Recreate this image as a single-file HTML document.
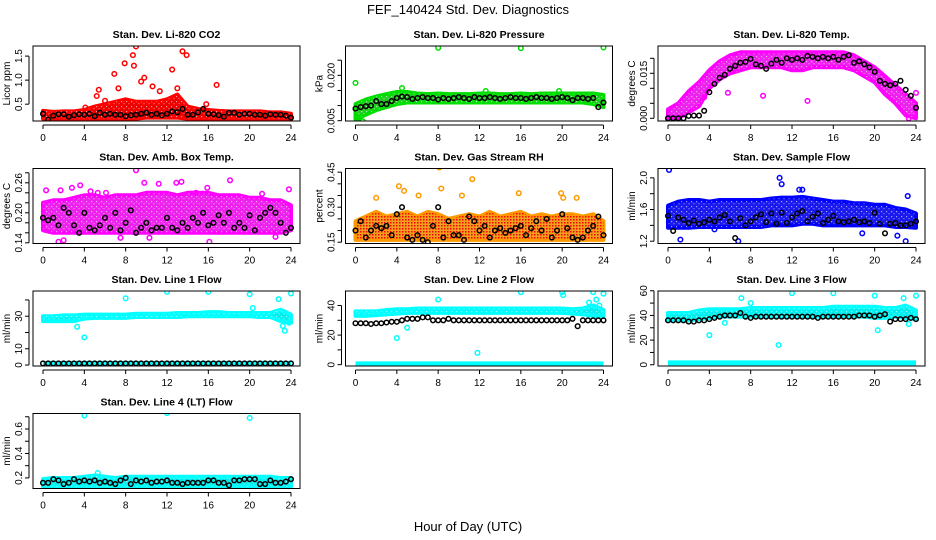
<!DOCTYPE html>
<html><head><meta charset="utf-8"><style>
body{margin:0;background:#fff;}
svg{display:block;font-family:"Liberation Sans",sans-serif;}
</style></head><body>
<svg id="chart" width="936" height="540" viewBox="0 0 936 540" xmlns="http://www.w3.org/2000/svg">
<defs>
<pattern id="speckle" width="5" height="5" patternUnits="userSpaceOnUse"><rect x="1" y="1" width="1.2" height="1.2" fill="#fff"/><rect x="3.5" y="3.2" width="1" height="1" fill="#fff"/></pattern>
</defs>
<text x="468" y="14" text-anchor="middle" font-size="13">FEF_140424  Std. Dev. Diagnostics</text>
<text x="468" y="531" text-anchor="middle" font-size="13">Hour of Day (UTC)</text>
</svg>
<script>
const hoursHalf=[0,0.5,1,1.5,2,2.5,3,3.5,4,4.5,5,5.5,6,6.5,7,7.5,8,8.5,9,9.5,10,10.5,11,11.5,12,12.5,13,13.5,14,14.5,15,15.5,16,16.5,17,17.5,18,18.5,19,19.5,20,20.5,21,21.5,22,22.5,23,23.5,24];
const hoursFull=[0,1,2,3,4,5,6,7,8,9,10,11,12,13,14,15,16,17,18,19,20,21,22,23,24];
const xTicks=[0,4,8,12,16,20,24];

// CO2
const co2Black=[0.3,0.18,0.26,0.29,0.29,0.24,0.27,0.29,0.28,0.3,0.25,0.32,0.28,0.3,0.28,0.28,0.25,0.27,0.28,0.3,0.32,0.28,0.3,0.27,0.3,0.35,0.33,0.4,0.28,0.28,0.33,0.4,0.3,0.29,0.27,0.24,0.32,0.32,0.28,0.3,0.3,0.28,0.28,0.26,0.29,0.28,0.28,0.26,0.22];
const co2Lo=[0.2,0.2,0.2,0.2,0.2,0.2,0.2,0.2,0.2,0.2,0.22,0.22,0.22,0.22,0.2,0.2,0.2,0.2,0.2,0.2,0.2,0.2,0.2,0.19,0.18];
const co2Hi=[0.36,0.34,0.35,0.35,0.38,0.45,0.5,0.55,0.6,0.55,0.55,0.55,0.6,0.7,0.45,0.4,0.38,0.36,0.35,0.35,0.35,0.35,0.33,0.33,0.3];
const co2OutX=[5.2,5.4,6.9,7.3,7.9,8.7,8.8,9.0,9.5,9.8,10.6,11.3,12.5,13.0,13.5,13.9,16.8,15.8,4.1,6.0];
const co2OutY=[0.67,0.8,1.13,0.83,1.35,1.52,1.3,1.7,0.97,1.05,0.87,0.77,1.22,0.83,1.6,1.52,0.9,0.5,0.43,0.57];
// Pressure
const prBlack=[0.009,0.0095,0.0098,0.01,0.0115,0.0105,0.0105,0.0115,0.0125,0.013,0.0128,0.0122,0.0125,0.0128,0.0125,0.0125,0.012,0.0125,0.0122,0.0125,0.0128,0.0125,0.0122,0.0128,0.0125,0.0125,0.0128,0.0125,0.0122,0.0125,0.0128,0.0125,0.0125,0.0122,0.0125,0.0128,0.0125,0.0125,0.0122,0.0125,0.0128,0.0125,0.0118,0.0125,0.0125,0.0122,0.0125,0.0095,0.011];
const prLo=[0.0055,0.007,0.0085,0.0095,0.0105,0.011,0.011,0.011,0.011,0.011,0.011,0.011,0.011,0.011,0.011,0.011,0.011,0.011,0.011,0.011,0.011,0.011,0.011,0.0105,0.0095];
const prHi=[0.0105,0.012,0.013,0.0138,0.0145,0.0145,0.014,0.0138,0.014,0.0138,0.0138,0.0138,0.014,0.014,0.0138,0.0138,0.014,0.0138,0.014,0.014,0.014,0.014,0.014,0.014,0.0135];
const prOutX=[0,0.3,0.7,8,16,24,4.5,12.6,19.7];
const prOutY=[0.0175,0.006,0.0048,0.0291,0.029,0.0292,0.0158,0.0148,0.0148];
// Li temp
const ltBlack=[0,0,0,0,0.0008,0.0009,0.0009,0.0025,0.0087,0.0115,0.0135,0.0145,0.0165,0.0175,0.0185,0.0188,0.0198,0.018,0.0175,0.0165,0.0182,0.0195,0.0185,0.02,0.0195,0.02,0.0195,0.0208,0.0205,0.02,0.0205,0.02,0.0205,0.0195,0.0205,0.021,0.0185,0.019,0.018,0.017,0.0155,0.0125,0.0115,0.011,0.0115,0.0125,0.0095,0.0075,0.0035];
const ltLo=[0,0,0.002,0.004,0.01,0.013,0.015,0.016,0.017,0.017,0.017,0.017,0.016,0.016,0.017,0.017,0.017,0.017,0.016,0.014,0.012,0.008,0.005,0.001,0];
const ltHi=[0.003,0.005,0.009,0.012,0.016,0.019,0.021,0.022,0.022,0.022,0.022,0.022,0.022,0.022,0.022,0.022,0.022,0.022,0.021,0.019,0.017,0.014,0.011,0.008,0.005];
const ltOutX=[3.5,9.2,13.5,5.8,24,23.3];
const ltOutY=[0.007,0.0075,0.0058,0.0085,0.0085,0];
// Box temp
const btBlack=[0.19,0.185,0.19,0.175,0.21,0.2,0.175,0.16,0.2,0.17,0.165,0.175,0.19,0.17,0.2,0.165,0.18,0.205,0.16,0.17,0.18,0.165,0.17,0.17,0.19,0.17,0.165,0.18,0.17,0.19,0.18,0.2,0.175,0.18,0.195,0.18,0.2,0.17,0.18,0.17,0.195,0.165,0.19,0.2,0.21,0.2,0.18,0.16,0.17];
const btLo=[0.165,0.16,0.16,0.16,0.16,0.16,0.16,0.16,0.16,0.16,0.16,0.16,0.16,0.16,0.16,0.16,0.16,0.16,0.16,0.16,0.16,0.16,0.16,0.16,0.165];
const btHi=[0.22,0.225,0.225,0.23,0.235,0.235,0.23,0.235,0.235,0.235,0.24,0.24,0.24,0.235,0.24,0.24,0.24,0.235,0.235,0.235,0.23,0.23,0.225,0.225,0.215];
const btOutX=[0.3,1.7,2.8,3.6,4.6,5.3,6.1,9.0,9.8,11.2,12.9,13.4,14.8,15.9,18.1,21.2,23.8,1.5,2.0,16.1,10.3,7.5,22.5];
const btOutY=[0.245,0.245,0.25,0.255,0.243,0.24,0.24,0.285,0.26,0.258,0.26,0.262,0.24,0.25,0.265,0.238,0.247,0.142,0.145,0.142,0.15,0.15,0.152];
// RH
const rhBlack=[0.2,0.24,0.17,0.2,0.22,0.21,0.22,0.18,0.27,0.3,0.17,0.16,0.18,0.16,0.15,0.22,0.3,0.17,0.24,0.18,0.18,0.16,0.26,0.24,0.2,0.22,0.17,0.2,0.21,0.19,0.2,0.21,0.22,0.18,0.21,0.24,0.2,0.25,0.17,0.2,0.27,0.21,0.17,0.16,0.17,0.2,0.22,0.26,0.18];
const rhLo=[0.16,0.16,0.16,0.16,0.16,0.16,0.16,0.16,0.16,0.16,0.16,0.16,0.16,0.16,0.16,0.16,0.16,0.16,0.16,0.16,0.16,0.16,0.16,0.16,0.16];
const rhHi=[0.24,0.26,0.28,0.26,0.27,0.28,0.26,0.28,0.27,0.25,0.26,0.27,0.26,0.28,0.26,0.27,0.28,0.26,0.27,0.26,0.27,0.27,0.26,0.27,0.24];
const rhOutX=[2,4.2,4.7,6.1,8.1,8.3,10.3,11.3,15.8,19.9,20.1,21.4];
const rhOutY=[0.34,0.39,0.37,0.35,0.47,0.38,0.35,0.42,0.36,0.36,0.34,0.34];
// Sample flow
const sfBlack=[1.52,1.33,1.5,1.47,1.43,1.46,1.42,1.44,1.47,1.45,1.5,1.53,1.45,1.24,1.49,1.4,1.45,1.5,1.54,1.44,1.55,1.42,1.56,1.43,1.5,1.55,1.58,1.45,1.51,1.55,1.43,1.47,1.52,1.45,1.44,1.45,1.47,1.44,1.45,1.43,1.56,1.42,1.3,1.42,1.43,1.4,1.4,1.42,1.45];
const sfLo=[1.37,1.37,1.37,1.38,1.38,1.38,1.38,1.38,1.38,1.38,1.4,1.4,1.4,1.42,1.42,1.4,1.4,1.4,1.4,1.4,1.4,1.4,1.38,1.38,1.37];
const sfHi=[1.65,1.7,1.72,1.72,1.7,1.72,1.72,1.72,1.72,1.72,1.74,1.75,1.75,1.76,1.74,1.72,1.7,1.7,1.68,1.68,1.66,1.66,1.62,1.6,1.55];
const sfOutX=[0.1,1.2,4.5,6.8,10.8,11.0,12.7,13.0,18.8,22.2,23.2,23.0];
const sfOutY=[2.1,1.22,1.35,1.2,2.0,1.92,1.85,1.85,1.3,1.27,1.77,1.2];
// Line 1
const l1Black=[1,1,1,1,1,1,1,1,1,1,1,1,1,1,1,1,1,1,1,1,1,1,1,1,1,1,1,1,1,1,1,1,1,1,1,1,1,1,1,1,1,1,1,1,1,1,1,1,1];
const l1Lo=[27,27,27,27,28.5,29,29,29,29,29.5,29.5,29.5,29.5,29.5,30,30,30,30,30,30,30,29.5,29.5,27,26];
const l1Hi=[30,30,30.5,30.5,31,31,31,31,31,31.5,31.5,31.5,31.5,32,32,32,32.5,32.5,32,32,32,32,32,34,31];
const l1OutX=[3.3,4,8,12,16,20,20.3,22.8,23.2,23.4,23.8,24];
const l1OutY=[23.5,17,41,45,45,43.5,35,40.5,24,21,26,44];
const l1LowX=[0,24];
const l1LowY=[1,1];
// Line 2
const l2Black=[28,28,28,27.5,28,28,28.5,29,29,30,31,31,31,32,32,30,30,30,31,30,30,30,30,30,30,30,30,30,30,30,30,30,30,30,30,30,30,30,30,30,30,30,31,26,30,30,30,30,30];
const l2Lo=[33,33,33.5,34,34.5,35,35,35,35,35,35,35,35,35,35,35,35,35,35,35,35,34.5,34,33,33];
const l2Hi=[36,36,36,37,37.5,37.5,38,38,38,38,38,38,38,38,38,38,38,38,38,38,38,37.5,38,40,37];
const l2OutX=[4,5,8,11.8,16,20,20.1,22.6,23,23.3,23.6,24];
const l2OutY=[18,25,44,8,49,49,47,42,49,44,40,48];
const l2LowX=[0,24];
const l2LowY=[0.5,0.5];
// Line 3
const l3Black=[36,36,36,36,35,35,36,36,37,38,39,40,40,40,42,39,38,39,39,39,39,39,39,39,39,39,39,39,39,38,39,39,39,39,39,39,39,40,40,40,39,40,41,35,37,37,37,38,37];
const l3Lo=[36,36,36,37,38,39,39,39,39,39,39,39,39,39,39,39,39,39,39,39,38,38,39,38,37];
const l3Hi=[42,42,42,44,45,45,45,45,46,46,46,46,46,46,46,46,47,47,47,47,47,46,46,48,44];
const l3OutX=[4,5.5,7.1,8,10.7,12,16,20,20.3,22.8,23.3,24];
const l3OutY=[24,34,54,50,16,58,58,56,28,54,33,56];
const l3LowX=[0,24];
const l3LowY=[1.5,1.5];
// Line 4
const l4Black=[0.16,0.16,0.19,0.18,0.15,0.16,0.19,0.17,0.18,0.17,0.18,0.16,0.17,0.16,0.15,0.18,0.2,0.15,0.18,0.17,0.18,0.16,0.17,0.17,0.18,0.16,0.16,0.15,0.16,0.16,0.16,0.16,0.18,0.18,0.16,0.16,0.14,0.18,0.18,0.19,0.19,0.19,0.15,0.15,0.18,0.16,0.16,0.17,0.19];
const l4Lo=[0.13,0.13,0.13,0.13,0.13,0.13,0.13,0.13,0.13,0.13,0.13,0.13,0.13,0.13,0.13,0.13,0.13,0.13,0.13,0.13,0.13,0.13,0.13,0.13,0.13];
const l4Hi=[0.19,0.2,0.2,0.2,0.21,0.22,0.21,0.2,0.21,0.21,0.21,0.21,0.21,0.21,0.21,0.21,0.21,0.21,0.21,0.21,0.21,0.21,0.21,0.2,0.2];
const l4OutX=[4,12,20,5.3];
const l4OutY=[0.71,0.73,0.69,0.24];

const panels=[
 {name:'co2',title:'Stan. Dev. Li-820 CO2',ylab:'Licor ppm',col:0,row:0,dom:[0.15,1.71],ticks:[0.5,1.0,1.5],labels:['0.5','1.0','1.5'],color:'#ff0000',fill:'#ee0000',black:co2Black,lo:co2Lo,hi:co2Hi,ox:co2OutX,oy:co2OutY},
 {name:'pressure',title:'Stan. Dev. Li-820 Pressure',ylab:'kPa',col:1,row:0,dom:[0.0049,0.0297],ticks:[0.005,0.01,0.015,0.02,0.025],labels:['0.005','','','0.020',''],color:'#00dd00',fill:'#22cc22',black:prBlack,lo:prLo,hi:prHi,ox:prOutX,oy:prOutY},
 {name:'li-temp',title:'Stan. Dev. Li-820 Temp.',ylab:'degrees C',col:2,row:0,dom:[-0.0009,0.0241],ticks:[0,0.005,0.01,0.015,0.02],labels:['0.000','','','0.015',''],color:'#ff00ff',fill:'#ee22ee',black:ltBlack,lo:ltLo,hi:ltHi,ox:ltOutX,oy:ltOutY},
 {name:'box-temp',title:'Stan. Dev. Amb. Box Temp.',ylab:'degrees C',col:0,row:1,dom:[0.1386,0.2886],ticks:[0.14,0.16,0.18,0.2,0.22,0.24,0.26,0.28],labels:['0.14','','','0.20','','','0.26',''],color:'#ff00ff',fill:'#ee22ee',black:btBlack,lo:btLo,hi:btHi,ox:btOutX,oy:btOutY},
 {name:'rh',title:'Stan. Dev. Gas Stream RH',ylab:'percent',col:1,row:1,dom:[0.1445,0.4657],ticks:[0.15,0.2,0.25,0.3,0.35,0.4,0.45],labels:['0.15','','','0.30','','','0.45'],color:'#ff9900',fill:'#f0a020',black:rhBlack,lo:rhLo,hi:rhHi,ox:rhOutX,oy:rhOutY},
 {name:'sample-flow',title:'Stan. Dev. Sample Flow',ylab:'ml/min',col:2,row:1,dom:[1.171,2.118],ticks:[1.2,1.4,1.6,1.8,2.0],labels:['1.2','','1.6','','2.0'],color:'#0000ff',fill:'#1a1aee',black:sfBlack,lo:sfLo,hi:sfHi,ox:sfOutX,oy:sfOutY},
 {name:'line1-flow',title:'Stan. Dev. Line 1 Flow',ylab:'ml/min',col:0,row:2,dom:[-0.6,45.5],ticks:[0,10,20,30,40],labels:['0','10','','30',''],color:'#00ffff',fill:'#00eeee',black:l1Black,lo:l1Lo,hi:l1Hi,ox:l1OutX,oy:l1OutY,lx:l1LowX,ly:l1LowY},
 {name:'line2-flow',title:'Stan. Dev. Line 2 Flow',ylab:'ml/min',col:1,row:2,dom:[-0.9,49.8],ticks:[0,10,20,30,40],labels:['0','','20','','40'],color:'#00ffff',fill:'#00eeee',black:l2Black,lo:l2Lo,hi:l2Hi,ox:l2OutX,oy:l2OutY,lx:l2LowX,ly:l2LowY},
 {name:'line3-flow',title:'Stan. Dev. Line 3 Flow',ylab:'ml/min',col:2,row:2,dom:[-1.0,59.8],ticks:[0,10,20,30,40,50,60],labels:['0','','20','','40','','60'],color:'#00ffff',fill:'#00eeee',black:l3Black,lo:l3Lo,hi:l3Hi,ox:l3OutX,oy:l3OutY,lx:l3LowX,ly:l3LowY},
 {name:'line4-flow',title:'Stan. Dev. Line 4 (LT) Flow',ylab:'ml/min',col:0,row:3,dom:[0.1137,0.7266],ticks:[0.2,0.3,0.4,0.5,0.6,0.7],labels:['0.2','','0.4','','0.6',''],color:'#00ffff',fill:'#00eeee',black:l4Black,lo:l4Lo,hi:l4Hi,ox:l4OutX,oy:l4OutY}
];

const NS='http://www.w3.org/2000/svg';
const svg=document.getElementById('chart');
function mk(tag,attrs,parent){const e=document.createElementNS(NS,tag);for(const k in attrs)e.setAttribute(k,attrs[k]);parent.appendChild(e);return e;}

panels.forEach(p=>{
 const L=33+312.5*p.col, R=L+267, T=46+122.5*p.row, B=T+75;
 const xs=h=>L+10+h*(248/24);
 const ys=v=>B-(v-p.dom[0])/(p.dom[1]-p.dom[0])*(B-T);
 const g=mk('g',{},svg);
 
 
 const clip=mk('clipPath',{id:'clip-'+p.name},g);
 mk('rect',{x:L,y:T,width:R-L,height:B-T},clip);
 const t=mk('text',{x:(L+R)/2,y:T-8,'text-anchor':'middle','font-size':'10.5','font-weight':'bold'},g);
 t.textContent=p.title;
 
 
 const yl=mk('text',{x:0,y:0,'text-anchor':'middle','font-size':'10',transform:`translate(${L-23},${(T+B)/2}) rotate(-90)`},g);
 yl.textContent=p.ylab;
 
 
 const marks=mk('g',{'clip-path':`url(#clip-${p.name})`},g);
 
 
 let d='';
 hoursFull.forEach((h,i)=>{d+=(i?'L':'M')+xs(h)+','+ys(p.hi[i]);});
 for(let i=hoursFull.length-1;i>=0;i--){d+='L'+xs(hoursFull[i])+','+ys(p.lo[i]);}
 const band=mk('path',{d:d+'Z',fill:p.fill,stroke:p.color,'stroke-width':4,'stroke-linejoin':'round'},marks);
 
 
 if(p.name==='rh'){
  const pat=mk('pattern',{id:'dots-rh',width:3,height:3,patternUnits:'userSpaceOnUse'},g);
  mk('rect',{x:0,y:0,width:1.5,height:1.5,fill:'#ff0000'},pat);
  mk('path',{d:d+'Z',fill:'url(#dots-rh)'},marks);
 } else {
  mk('path',{d:d+'Z',fill:'url(#speckle)',opacity:0.6},marks);
 }
 if(p.lx){
  const lb=mk('line',{x1:xs(p.lx[0]),y1:ys(p.ly[0]),x2:xs(p.lx[1]),y2:ys(p.ly[1]),stroke:p.color,'stroke-width':5},marks);
  
  
 }
 p.ox.forEach((x,i)=>{
  const c=mk('circle',{cx:xs(x),cy:ys(p.oy[i]),r:2.3,fill:'none',stroke:p.color,'stroke-width':1.5},marks);
  
  
 });
 hoursHalf.forEach((h,i)=>{
  const c=mk('circle',{cx:xs(h),cy:ys(p.black[i]),r:2.3,fill:'none',stroke:'#000','stroke-width':1.5},marks);
  
  
 });
 const box=mk('rect',{x:L,y:T,width:R-L,height:B-T,fill:'none',stroke:'#000','stroke-width':1},g);
 
 
 const xa=mk('g',{},g);
 
 
 mk('line',{x1:xs(0),y1:B+4,x2:xs(24),y2:B+4,stroke:'#000'},xa);
 xTicks.forEach(h=>{
  mk('line',{x1:xs(h),y1:B+4,x2:xs(h),y2:B+8,stroke:'#000'},xa);
  const tl=mk('text',{x:xs(h),y:B+20,'text-anchor':'middle','font-size':'10'},xa);
  tl.textContent=String(h);
 });
 const ya=mk('g',{},g);
 
 
 mk('line',{x1:L-4,y1:ys(p.ticks[0]),x2:L-4,y2:ys(p.ticks[p.ticks.length-1]),stroke:'#000'},ya);
 p.ticks.forEach((v,i)=>{
  const y=ys(v);
  mk('line',{x1:L-8,y1:y,x2:L-4,y2:y,stroke:'#000'},ya);
  if(p.labels[i]){
   const tl=mk('text',{x:0,y:0,'text-anchor':'middle','font-size':'10',transform:`translate(${L-11},${y}) rotate(-90)`},ya);
   tl.textContent=p.labels[i];
  }
 });
});
</script>
</body></html>
